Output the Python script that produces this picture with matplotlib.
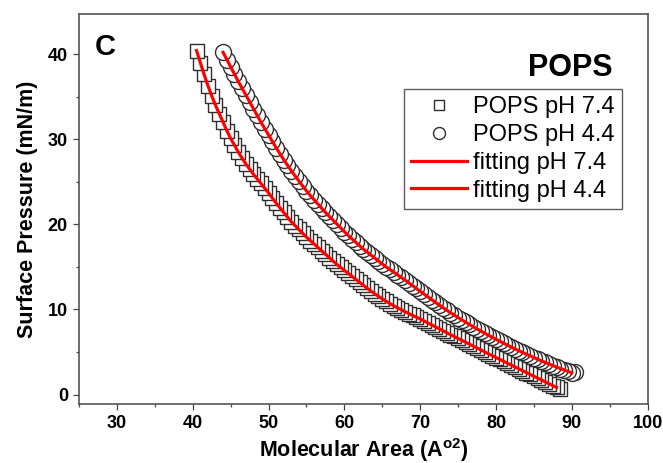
import matplotlib
matplotlib.use("Agg")
import matplotlib.pyplot as plt
from matplotlib.ticker import MultipleLocator

plt.rcParams['font.family'] = ['Liberation Sans', 'DejaVu Sans']
plt.rcParams['mathtext.fontset'] = 'custom'
plt.rcParams['mathtext.rm'] = 'Liberation Sans:bold'
plt.rcParams['mathtext.bf'] = 'Liberation Sans:bold'
plt.rcParams['mathtext.it'] = 'Liberation Sans:bold'

# ---- data ----
area_74 = [40.5, 41.0, 41.5, 42.0, 42.5, 43.0, 43.5, 44.0, 44.5, 45.0,
           45.5, 46.0, 46.5, 47.0, 47.5, 48.0, 48.5, 49.0, 49.5, 50.0,
           50.5, 51.0, 51.5, 52.0, 52.5, 53.0, 53.5, 54.0, 54.5, 55.0,
           55.5, 56.0, 56.5, 57.0, 57.5, 58.0, 58.5, 59.0, 59.5, 60.0,
           60.5, 61.0, 61.5, 62.0, 62.5, 63.0, 63.5, 64.0, 64.5, 65.0,
           65.5, 66.0, 66.5, 67.0, 67.5, 68.0, 68.5, 69.0, 69.5, 70.0,
           70.5, 71.0, 71.5, 72.0, 72.5, 73.0, 73.5, 74.0, 74.5, 75.0,
           75.5, 76.0, 76.5, 77.0, 77.5, 78.0, 78.5, 79.0, 79.5, 80.0,
           80.5, 81.0, 81.5, 82.0, 82.5, 83.0, 83.5, 84.0, 84.5, 85.0,
           85.5, 86.0, 86.5, 87.0, 87.5, 88.0, 88.5]
pressure_74 = [40.4, 39.0, 37.6, 36.3, 35.1, 34.0, 33.0, 32.0, 31.0, 30.1,
               29.3, 28.5, 27.8, 27.1, 26.5, 25.9, 25.35, 24.8, 24.25, 23.7,
               23.1, 22.5, 21.95, 21.4, 20.85, 20.3, 19.85, 19.4, 18.95, 18.5,
               18.1, 17.7, 17.3, 16.9, 16.5, 16.1, 15.7, 15.3, 14.95, 14.6,
               14.25, 13.9, 13.55, 13.2, 12.85, 12.5, 12.17, 11.85, 11.55, 11.25,
               10.97, 10.7, 10.45, 10.2, 9.97, 9.75, 9.52, 9.3, 9.1, 8.9,
               8.66, 8.43, 8.2, 7.97, 7.74, 7.51, 7.28, 7.05, 6.83, 6.6,
               6.38, 6.15, 5.93, 5.7, 5.48, 5.25, 5.03, 4.8, 4.58, 4.36,
               4.14, 3.92, 3.7, 3.48, 3.26, 3.04, 2.82, 2.6, 2.38, 2.16,
               1.94, 1.72, 1.5, 1.28, 1.06, 0.85, 0.7]

area_44 = [44.0, 44.5, 45.0, 45.5, 46.0, 46.5, 47.0, 47.5, 48.0, 48.5,
           49.0, 49.5, 50.0, 50.5, 51.0, 51.5, 52.0, 52.5, 53.0, 53.5,
           54.0, 54.5, 55.0, 55.5, 56.0, 56.5, 57.0, 57.5, 58.0, 58.5,
           59.0, 59.5, 60.0, 60.5, 61.0, 61.5, 62.0, 62.5, 63.0, 63.5,
           64.0, 64.5, 65.0, 65.5, 66.0, 66.5, 67.0, 67.5, 68.0, 68.5,
           69.0, 69.5, 70.0, 70.5, 71.0, 71.5, 72.0, 72.5, 73.0, 73.5,
           74.0, 74.5, 75.0, 75.5, 76.0, 76.5, 77.0, 77.5, 78.0, 78.5,
           79.0, 79.5, 80.0, 80.5, 81.0, 81.5, 82.0, 82.5, 83.0, 83.5,
           84.0, 84.5, 85.0, 85.5, 86.0, 86.5, 87.0, 87.5, 88.0, 88.5,
           89.0, 89.5, 90.0, 90.4]
pressure_44 = [40.2, 39.35, 38.5, 37.65, 36.8, 36.0, 35.2, 34.4, 33.6, 32.8,
               32.0, 31.25, 30.5, 29.75, 29.0, 28.3, 27.6, 26.95, 26.3, 25.7,
               25.1, 24.5, 23.95, 23.4, 22.9, 22.4, 21.9, 21.4, 20.95, 20.5,
               20.05, 19.6, 19.15, 18.7, 18.3, 17.9, 17.5, 17.1, 16.75, 16.4,
               16.05, 15.7, 15.35, 15.0, 14.7, 14.4, 14.08, 13.77, 13.47, 13.13,
               12.8, 12.47, 12.15, 11.82, 11.5, 11.17, 10.85, 10.53, 10.22, 9.92,
               9.62, 9.34, 9.06, 8.78, 8.51, 8.24, 7.98, 7.72, 7.47, 7.22,
               6.98, 6.74, 6.5, 6.27, 6.05, 5.82, 5.6, 5.38, 5.17, 4.96,
               4.76, 4.56, 4.36, 4.16, 3.97, 3.78, 3.6, 3.42, 3.24, 3.07,
               2.9, 2.73, 2.56, 2.7]

x_ticks = [30, 40, 50, 60, 70, 80, 90, 100]
y_ticks = [0, 10, 20, 30, 40]
labels = ["POPS pH 7.4", "POPS pH 4.4", "fitting pH 7.4", "fitting pH 4.4"]

# ---- figure ----
fig = plt.figure(figsize=(6.63, 4.63), dpi=100)
ax = fig.add_axes([0.1192, 0.1274, 0.8575, 0.8423])

edge = '#2e2e2e'
# draw in compression order (large area first) so the first points sit on top
ax.plot(area_74[::-1], pressure_74[::-1], linestyle='none', marker='s',
        markersize=10.5, markerfacecolor='white', markeredgecolor=edge,
        markeredgewidth=1.0, label=labels[0], zorder=2)
ax.plot(area_44[::-1], pressure_44[::-1], linestyle='none', marker='o',
        markersize=11.5, markerfacecolor='white', markeredgecolor=edge,
        markeredgewidth=1.0, label=labels[1], zorder=2)
ax.plot(area_74[:-1], pressure_74[:-1], color='#ff0000', linewidth=2.3,
        label=labels[2], zorder=3)
ax.plot(area_44[:-1], pressure_44[:-1], color='#ff0000', linewidth=2.3,
        label=labels[3], zorder=3)

ax.set_xlim(25, 100)
ax.set_ylim(-1.1, 44.7)
ax.set_xticks(x_ticks)
ax.set_yticks(y_ticks)
ax.xaxis.set_minor_locator(MultipleLocator(5))
ax.yaxis.set_minor_locator(MultipleLocator(5))

for s in ax.spines.values():
    s.set_color('#555555')
    s.set_linewidth(1.2)

ax.tick_params(which='both', direction='out', top=False, right=False,
               color='#444444', width=0.9)
ax.tick_params(which='major', length=4, labelsize=13, pad=4)
ax.tick_params(which='minor', length=2.5)
for lab in ax.get_xticklabels() + ax.get_yticklabels():
    lab.set_fontweight('bold')

ax.set_xlabel(r'Molecular Area (A$^{\mathrm{o2}}$)', fontsize=15.5,
              fontweight='bold', labelpad=3)
ax.set_ylabel('Surface Pressure (mN/m)', fontsize=15.5, fontweight='bold',
              labelpad=7)

ax.text(0.027, 0.915, 'C', transform=ax.transAxes, fontsize=21,
        fontweight='bold', va='center', ha='left')
ax.text(0.938, 0.862, 'POPS', transform=ax.transAxes, fontsize=22,
        fontweight='bold', va='center', ha='right')

leg = ax.legend(loc='upper right', bbox_to_anchor=(0.938, 0.808),
                bbox_transform=fig.transFigure, fontsize=17,
                frameon=True, fancybox=False, borderpad=0.3,
                handlelength=2.4, handletextpad=0.25, labelspacing=0.25,
                borderaxespad=0, markerscale=0.75)
leg.get_frame().set_edgecolor('#333333')
leg.get_frame().set_linewidth(1.0)

fig.savefig('out.png', dpi=100)
